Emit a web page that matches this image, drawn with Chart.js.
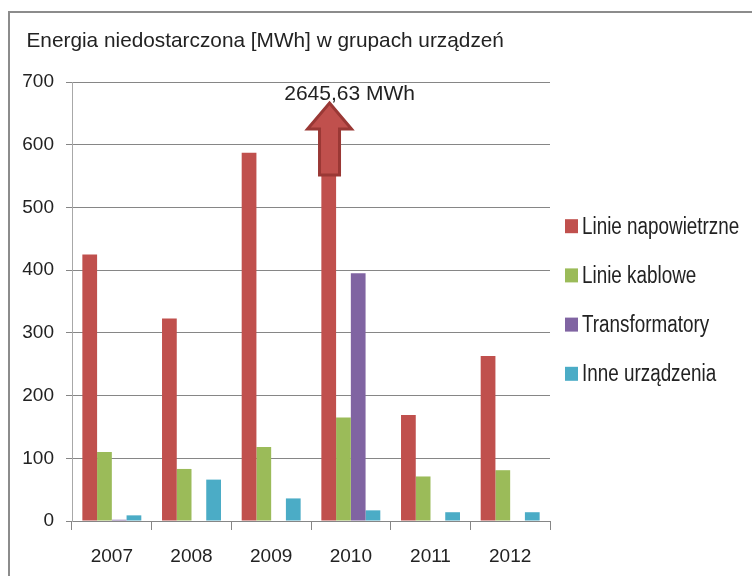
<!DOCTYPE html>
<html>
<head>
<meta charset="utf-8">
<script src="https://cdn.jsdelivr.net/npm/chart.js@4/dist/chart.umd.min.js"></script>
<style>
  html, body { margin: 0; padding: 0; background: #fff; width: 752px; height: 576px; overflow: hidden; }
  #frame { position: absolute; left: 8px; top: 11px; width: 744px; height: 565px;
           border-top: 2px solid #8c8c8c; border-left: 2px solid #8c8c8c; box-sizing: border-box; }
  #c { position: absolute; left: 0; top: 0; }
</style>
</head>
<body>
<div id="frame"><canvas id="c" width="742" height="563"></canvas></div>
<script>
// ---- data ----
const titleText = 'Energia niedostarczona [MWh] w grupach urządzeń';
const categories = ['2007', '2008', '2009', '2010', '2011', '2012'];
const seriesNames = ['Linie napowietrzne', 'Linie kablowe', 'Transformatory', 'Inne urządzenia'];
const linieNapowietrzne = [425, 323, 587, 2645.63, 169, 263];
const linieKablowe = [110, 83, 118, 165, 71, 81];
const transformatory = [2, 0, 0, 395, 0, 0];
const inneUrzadzenia = [9, 66, 36, 17, 14, 14];
const seriesColors = ['#C0504D', '#9BBB59', '#8064A2', '#4BACC6'];
const yTickValues = [0, 100, 200, 300, 400, 500, 600, 700];
const calloutText = '2645,63 MWh';
const calloutSeries = 0;     // Linie napowietrzne
const calloutCategory = 3;   // 2010

const REGULAR = "'Liberation Sans', Arial, sans-serif";
const TEXT = '#222222';

const seriesValues = [linieNapowietrzne, linieKablowe, transformatory, inneUrzadzenia];

const titlePlugin = {
  id: 'titleText',
  afterDraw(chart) {
    const ctx = chart.ctx;
    ctx.save();
    ctx.font = '20.8px ' + REGULAR;
    ctx.fillStyle = TEXT;
    ctx.textBaseline = 'alphabetic';
    ctx.textAlign = 'left';
    ctx.fillText(titleText, 16.5, 34);
    ctx.restore();
  }
};

const legendPlugin = {
  id: 'sideLegend',
  afterDraw(chart) {
    const ctx = chart.ctx;
    const area = chart.chartArea;
    const ds = chart.data.datasets;
    const spacing = 49.2;
    const cy = (area.top + area.bottom) / 2 - 1.5;
    const y0 = cy - spacing * (ds.length - 1) / 2;
    const x0 = area.right + 15;
    ds.forEach((d, i) => {
      const y = y0 + i * spacing;
      ctx.save();
      ctx.fillStyle = d.backgroundColor;
      ctx.fillRect(x0, y - 7, 13, 14);
      ctx.translate(x0 + 17, y + 1);
      ctx.scale(0.82, 1);
      ctx.font = '23px ' + REGULAR;
      ctx.textBaseline = 'middle';
      ctx.textAlign = 'left';
      ctx.fillStyle = TEXT;
      ctx.fillText(d.label, 0, 0);
      ctx.restore();
    });
  }
};

const calloutPlugin = {
  id: 'callout',
  afterDatasetsDraw(chart) {
    const ctx = chart.ctx;
    const area = chart.chartArea;
    const bar = chart.getDatasetMeta(calloutSeries).data[calloutCategory];
    const x = bar.x;
    const top = area.top;
    ctx.save();
    // white label box (covers the clipped part of the bar)
    ctx.fillStyle = '#ffffff';
    ctx.fillRect(x - 47, top + 1, 138, 30);
    ctx.font = '21px ' + REGULAR;
    ctx.fillStyle = TEXT;
    ctx.textBaseline = 'alphabetic';
    ctx.textAlign = 'left';
    ctx.fillText(calloutText, x - 44.5, top + 17.5);
    // arrow
    const cx = x + 0.8;
    const tipY = top + 21, headY = top + 47, botY = top + 93;
    const hw = 22, sw = 10;
    ctx.beginPath();
    ctx.moveTo(cx, tipY);
    ctx.lineTo(cx + hw, headY);
    ctx.lineTo(cx + sw, headY);
    ctx.lineTo(cx + sw, botY);
    ctx.lineTo(cx - sw, botY);
    ctx.lineTo(cx - sw, headY);
    ctx.lineTo(cx - hw, headY);
    ctx.closePath();
    ctx.fillStyle = '#C0504D';
    ctx.fill();
    ctx.lineWidth = 3;
    ctx.lineJoin = 'miter';
    ctx.strokeStyle = '#9A3835';
    ctx.stroke();
    ctx.restore();
  }
};

new Chart(document.getElementById('c'), {
  type: 'bar',
  data: {
    labels: categories,
    datasets: seriesValues.map((vals, i) => ({
      label: seriesNames[i],
      data: vals,
      backgroundColor: seriesColors[i],
      borderWidth: 0,
      barPercentage: 1.0,
      categoryPercentage: 0.74,
      clip: { left: 0, top: -1, right: 0, bottom: 0 }
    }))
  },
  options: {
    responsive: false,
    animation: false,
    devicePixelRatio: 1,
    layout: { padding: { top: 69, right: 202, bottom: 0, left: 0 } },
    plugins: {
      legend: { display: false },
      title: { display: false },
      tooltip: { enabled: false }
    },
    scales: {
      x: {
        afterFit(scale) { scale.height = 55; },
        grid: { display: true, drawOnChartArea: false, drawTicks: true, tickLength: 9,
                offset: true, color: '#868686', lineWidth: 1 },
        border: { display: true, color: '#868686', width: 1 },
        ticks: { font: { family: REGULAR, size: 19 }, color: TEXT, padding: 15,
                 autoSkip: false, maxRotation: 0 }
      },
      y: {
        min: 0,
        max: 700,
        afterFit(scale) { scale.width = 62; },
        afterBuildTicks(scale) { scale.ticks = yTickValues.map(v => ({ value: v })); },
        grid: { color: '#868686', lineWidth: 1, drawTicks: true, tickLength: 6 },
        border: { display: true, color: '#a8a8a8', width: 1 },
        ticks: { font: { family: REGULAR, size: 19 }, color: TEXT, padding: 12 }
      }
    }
  },
  plugins: [titlePlugin, legendPlugin, calloutPlugin]
});
</script>
</body>
</html>
